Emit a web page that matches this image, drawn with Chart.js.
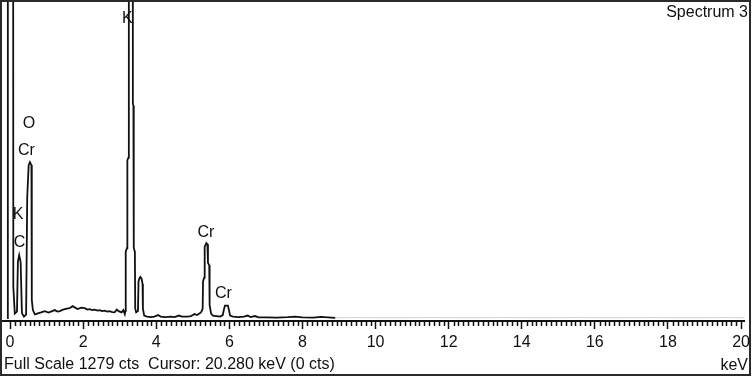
<!DOCTYPE html>
<html>
<head>
<meta charset="utf-8">
<script src="https://cdn.jsdelivr.net/npm/chart.js@4.4.1/dist/chart.umd.min.js"></script>
<style>
  html, body { margin: 0; padding: 0; background: #fff; }
  #wrap { position: relative; width: 754px; height: 378px; overflow: hidden; font-family: "Liberation Sans", Arial, sans-serif; color: #111; }
  #spectrum { position: absolute; left: 0; top: 0; }
  #frame { position: absolute; left: 0; top: 0; width: 747px; height: 372px; border: 2px solid #2a2a2a; pointer-events: none; }
  .txt { position: absolute; font-size: 16px; line-height: 16px; white-space: pre; }
  #title { right: 6px; top: 4px; }
  #footer { left: 4px; top: 356px; }
  #unit { right: 6px; top: 357px; }
</style>
</head>
<body>
<div id="wrap">
  <canvas id="spectrum" width="754" height="378"></canvas>
  <div id="frame"></div>
  <div class="txt" id="title">Spectrum 3</div>
  <div class="txt" id="footer">Full Scale 1279 cts  Cursor: 20.280 keV (0 cts)</div>
  <div class="txt" id="unit">keV</div>
</div>
<script>
// spectrum (keV, counts); 3000 = off scale
const energyKeV = [
  -0.08, -0.06, 0.08, 0.09, 0.13, 0.19, 0.215, 0.25, 0.29, 0.325, 0.38, 0.44, 0.47, 0.51, 0.545, 0.585, 0.595, 0.625,
  0.68, 0.76, 0.85, 0.95, 1.05, 1.12, 1.22, 1.3, 1.36, 1.45, 1.55, 1.63, 1.71, 1.78, 1.85, 1.95, 2.04, 2.12, 2.18,
  2.25, 2.31, 2.4, 2.45, 2.52, 2.59, 2.66, 2.72, 2.8, 2.86, 2.92, 2.97, 3.05, 3.1, 3.14,
  3.155, 3.165, 3.2, 3.21, 3.24, 3.25, 3.355, 3.36, 3.375, 3.385, 3.415, 3.425, 3.45, 3.5, 3.515, 3.545, 3.565,
  3.6, 3.625, 3.635, 3.67,
  3.75, 3.85, 3.95, 4.05, 4.12, 4.25, 4.4, 4.5, 4.62, 4.7, 4.85, 4.95, 5.05, 5.12, 5.2,
  5.24, 5.27, 5.28, 5.31, 5.325, 5.37, 5.4, 5.415, 5.45, 5.46, 5.5, 5.55, 5.65, 5.75, 5.82, 5.85, 5.88, 5.96,
  5.99, 6.02, 6.1,
  6.25, 6.4, 6.5, 6.58, 6.7, 6.8, 7.0, 7.3, 7.6, 7.8, 8.0, 8.3, 8.5, 8.7, 8.9,
  9.5, 10.5, 11.5, 12.5, 13.5, 14.5, 15.5, 16.5, 17.5, 18.5, 19.5, 20.1
];
const counts = [
  2, 3000, 3000, 127, 20, 28, 230, 256, 228, 22, 8, 16, 490, 620, 632, 620, 75, 34,
  17, 21, 25, 30, 24, 28, 34, 28, 30, 36, 40, 42, 50, 44, 38, 44, 42, 36, 38,
  34, 36, 32, 34, 30, 32, 28, 30, 26, 25, 36, 30, 25, 34, 18,
  30, 270, 285, 640, 650, 3000, 3000, 870, 860, 285, 270, 40, 25, 30, 150, 165, 168,
  160, 140, 40, 12,
  8, 6, 8, 14, 8, 6, 8, 6, 12, 8, 8, 10, 18, 14, 22,
  28, 40, 150, 165, 290, 305, 300, 225, 215, 55, 20, 12, 10, 8, 14, 36, 52, 52,
  34, 12, 8,
  6, 8, 12, 6, 10, 5, 5, 4, 6, 8, 5, 4, 7, 5, 3,
  4, 3, 4, 3, 4, 3, 4, 3, 4, 3, 4, 3
];

// peak labels: element, where the label sits (keV, counts)
const peakNames = ['K', 'O', 'Cr', 'K', 'C', 'Cr', 'Cr'];
const peakKeV = [3.21, 0.517, 0.449, 0.218, 0.258, 5.36, 5.835];
const peakLabelCts = [1212, 789, 680, 418, 305, 349, 101];

const xMin = -0.22;
const xMax = 20.1;
const fullScale = 1279;
const minorStep = 2 / 15;
const faintFrom = 8.9;

const points = energyKeV.map((e, i) => ({ x: e, y: counts[i] }));

const peakLabels = {
  id: 'peakLabels',
  afterDatasetsDraw(chart) {
    const { ctx, scales: { x, y } } = chart;
    ctx.save();
    ctx.font = '16px "Liberation Sans", Arial, sans-serif';
    ctx.fillStyle = '#111';
    ctx.textAlign = 'center';
    ctx.textBaseline = 'middle';
    peakNames.forEach((name, i) => {
      ctx.fillText(name, x.getPixelForValue(peakKeV[i]), y.getPixelForValue(peakLabelCts[i]));
    });
    ctx.restore();
  }
};

const minorTicks = {
  id: 'minorTicks',
  afterDraw(chart) {
    const { ctx, chartArea, scales: { x } } = chart;
    ctx.save();
    ctx.strokeStyle = '#111';
    ctx.lineWidth = 1.5;
    ctx.beginPath();
    for (let i = 1; i * minorStep <= 20.001; i++) {
      if (i % 15 === 0) continue;
      const px = Math.round(x.getPixelForValue(i * minorStep)) + 0.5;
      ctx.moveTo(px, chartArea.bottom + 1);
      ctx.lineTo(px, chartArea.bottom + 5);
    }
    ctx.stroke();
    ctx.restore();
  }
};

new Chart(document.getElementById('spectrum'), {
  type: 'line',
  data: {
    datasets: [{
      data: points,
      borderColor: '#111',
      borderWidth: 1.8,
      pointRadius: 0,
      tension: 0,
      fill: false,
      segment: {
        borderColor: (c) => (c.p0.parsed.x >= faintFrom ? '#d4d4d4' : '#111'),
        borderWidth: (c) => (c.p0.parsed.x >= faintFrom ? 1 : 1.8)
      }
    }]
  },
  options: {
    responsive: false,
    animation: false,
    devicePixelRatio: 1,
    layout: { padding: { left: 2, right: 5, top: 2, bottom: 0 } },
    plugins: { legend: { display: false }, tooltip: { enabled: false } },
    scales: {
      x: {
        type: 'linear',
        min: xMin,
        max: xMax,
        afterFit(scale) { scale.height = 57; },
        border: { display: true, color: '#111', width: 2 },
        grid: { drawOnChartArea: false, drawTicks: true, tickLength: 8, tickColor: '#111', tickWidth: 1.5 },
        ticks: {
          stepSize: 2,
          includeBounds: false,
          maxRotation: 0,
          autoSkip: false,
          padding: 4,
          color: '#111',
          font: { family: '"Liberation Sans", Arial, sans-serif', size: 16 }
        }
      },
      y: {
        display: false,
        min: -10,
        max: fullScale
      }
    }
  },
  plugins: [peakLabels, minorTicks]
});
</script>
</body>
</html>
